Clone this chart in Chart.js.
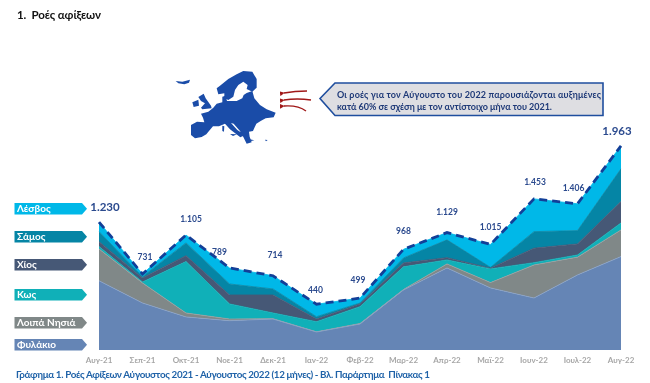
<!DOCTYPE html>
<html lang="el"><head><meta charset="utf-8">
<script src="https://cdn.jsdelivr.net/npm/chart.js@4"></script>
<style>
html,body{margin:0;padding:0;background:#fff;width:650px;height:383px;overflow:hidden}
#wrap{position:relative;width:650px;height:383px}
canvas,svg{position:absolute;left:0;top:0}
text{font-family:"Lato","Open Sans","Noto Sans",sans-serif;font-weight:700;white-space:pre}
</style></head><body>
<div id="wrap"><canvas id="c" width="650" height="383"></canvas>
<svg width="650" height="383" viewBox="0 0 650 383">
 <defs><marker id="ah" markerWidth="3.4" markerHeight="3.4" refX="0.5" refY="1.7" orient="auto"><path d="M3.4 0L0 1.7L3.4 3.4Z" fill="#A01818"/></marker></defs>
 <text x="17" y="19" font-size="11.5" fill="#111" textLength="84">1.  Ροές αφίξεων</text>
 <g transform="translate(165,65) scale(0.3333)" fill="#1A4CA8">
  <path d="M32 48L52 50L75 44L72 53L58 58L40 55Z"/>
  <path d="M82 112L100 104L102 122L86 126Z"/>
  <path d="M100 96L116 86L122 100L138 122L140 130L112 133L108 128L120 115L108 108Z"/>
  <path d="M155 70L165 62L190 42L215 28L235 18L262 20L275 42L275 68L262 80L245 72L248 60L235 50L220 60L210 75L205 95L190 105L178 100L178 85L160 88Z"/>
  <path d="M78 210L78 180L96 170L118 172L114 158L108 146L130 140L145 128L155 116L172 112L172 95L182 92L186 108L215 108L232 100L236 90L245 84L262 78L268 100L285 120L305 133L332 143L326 157L302 160L287 168L274 176L264 198L252 200L254 215L260 232L245 236L235 216L225 198L206 176L198 174L217 195L240 210L226 217L195 193L180 176L162 184L144 184L132 198L124 208L110 216L90 220Z"/>
  <path d="M172 182L178 184L177 200L172 198Z"/><path d="M195 207L216 208L204 213Z"/>
  <path d="M254 223L268 226L258 228Z"/><path d="M300 224L308 225L303 229Z"/>
 </g>
 <g fill="none" stroke="#A01818" stroke-width="1.4">
  <path d="M307 91Q295 91 284 93" marker-end="url(#ah)"/>
  <path d="M311 100Q297 98 284 100" marker-end="url(#ah)"/>
  <path d="M306 111Q298 105 284 106" marker-end="url(#ah)"/>
 </g>
 <path d="M320 98.5L335 83H603V115.5H335Z" fill="#DEDEE2" stroke="#1F4E9E" stroke-width="1.6"/>
 <text x="337" y="98" font-size="9" fill="#1F3A78" textLength="264">Οι ροές για τον Αύγουστο του 2022 παρουσιάζονται αυξημένες</text>
 <text x="337" y="109.5" font-size="9" fill="#1F3A78" textLength="215">κατά 60% σε σχέση με τον αντίστοιχο μήνα του 2021.</text>
 <g id="tags"></g>
 <text x="16" y="378" font-size="9.8" fill="#1F62A8" textLength="414">Γράφημα 1. Ροές Αφίξεων Αύγουστος 2021 - Αύγουστος 2022 (12 μήνες) - Βλ. Παράρτημα  Πίνακας 1</text>
</svg></div>
<script>
const categories=["Αυγ-21","Σεπ-21","Οκτ-21","Νοε-21","Δεκ-21","Ιαν-22","Φεβ-22","Μαρ-22","Απρ-22","Μαϊ-22","Ιουν-22","Ιουλ-22","Αυγ-22"];
const fylakio=[666,452,318,282,298,173,250,578,789,597,500,722,898];
const loipa=[306,193,38,16,3,2,5,4,39,51,318,171,257];
const kos=[22,9,494,145,55,97,162,218,38,132,22,21,67];
const chios=[48,39,57,86,173,26,26,37,22,7,139,106,205];
const samos=[96,12,123,106,58,22,9,48,171,8,159,128,315];
const lesvos=[92,26,75,154,127,120,47,83,70,220,315,258,221];
const totals=[1230,731,1105,789,714,440,499,968,1129,1015,1453,1406,1963];
const totalLabels=["1.230","731","1.105","789","714","440","499","968","1.129","1.015","1.453","1.406","1.963"];
const labelDx=[6,2.5,5,-10,2,-1,-2,0,0,0,1,-4,-4];
const labelDy=[-15,-17,-16,-16,-20,-14,-18,-18,-20,-17,-17,-16,-15];

const FF='"Lato","Open Sans","Noto Sans",sans-serif';
const layers=[
 {name:"Φυλάκιο",data:fylakio,color:"#6585B5",edge:"#8AA3C8",top:339},
 {name:"Λοιπά Νησιά",data:loipa,color:"#808888",edge:"#9AA0A0",top:317},
 {name:"Κως",data:kos,color:"#10B0B8",edge:"#10B0B8",top:289},
 {name:"Χίος",data:chios,color:"#465876",edge:"#465876",top:259},
 {name:"Σάμος",data:samos,color:"#0585A5",edge:"#0585A5",top:231},
 {name:"Λέσβος",data:lesvos,color:"#00B8E8",edge:"#00B8E8",top:203}
];
const tags=document.getElementById('tags');
const NS='http://www.w3.org/2000/svg';
layers.forEach(l=>{
 const h=11.5,t=l.top,x0=14.5,x1=82,x2=87;
 const p=document.createElementNS(NS,'path');
 p.setAttribute('d',`M${x0} ${t}H${x1}L${x2} ${t+h/2}L${x1} ${t+h}H${x0}Z`);
 p.setAttribute('fill',l.color);tags.appendChild(p);
 const tx=document.createElementNS(NS,'text');
 tx.setAttribute('x',17);tx.setAttribute('y',t+h-2.2);tx.setAttribute('font-size','10');tx.setAttribute('fill','#fff');
 tx.textContent=l.name;tags.appendChild(tx);
});
const valueLabels={id:'valueLabels',afterDatasetsDraw(ch){
 const g=ch.ctx,xs=ch.scales.x,ys=ch.scales.y;
 g.save();g.textAlign='center';g.textBaseline='middle';g.fillStyle='#2B4A8E';
 totals.forEach((v,i)=>{
  const big=i===0||i===totals.length-1;
  g.font=`700 ${big?11.5:8.5}px ${FF}`;
  g.fillText(totalLabels[i],xs.getPixelForValue(i)+labelDx[i],ys.getPixelForValue(v)+labelDy[i]);
 });
 g.restore();
}};
const datasets=layers.map((l,i)=>({label:l.name,data:l.data,stack:'areas',order:1,
 backgroundColor:l.color,borderColor:l.edge,borderWidth:0.8,pointRadius:0,tension:0,
 fill:i===0?'origin':'-1'}));
datasets.push({label:"Σύνολο",data:totals,stack:'total',order:0,fill:false,borderColor:"#123F98",
 borderWidth:2.8,borderDash:[8,5],pointRadius:0,tension:0});
new Chart(document.getElementById('c'),{type:'line',data:{labels:categories,datasets},
 plugins:[valueLabels],
 options:{responsive:false,animation:false,
  layout:{padding:{left:99,right:29,top:142,bottom:0}},
  plugins:{legend:{display:false},tooltip:{enabled:false},title:{display:false}},
  scales:{
   x:{offset:false,grid:{display:false,drawTicks:false},border:{display:false},
      afterFit(s){s.height=33},
      ticks:{maxRotation:0,autoSkip:false,padding:6,color:'#A6A6A6',font:{family:FF,size:8,weight:'700'}}},
   y:{display:false,stacked:true,min:0,max:2000}
  }}});
</script></body></html>
